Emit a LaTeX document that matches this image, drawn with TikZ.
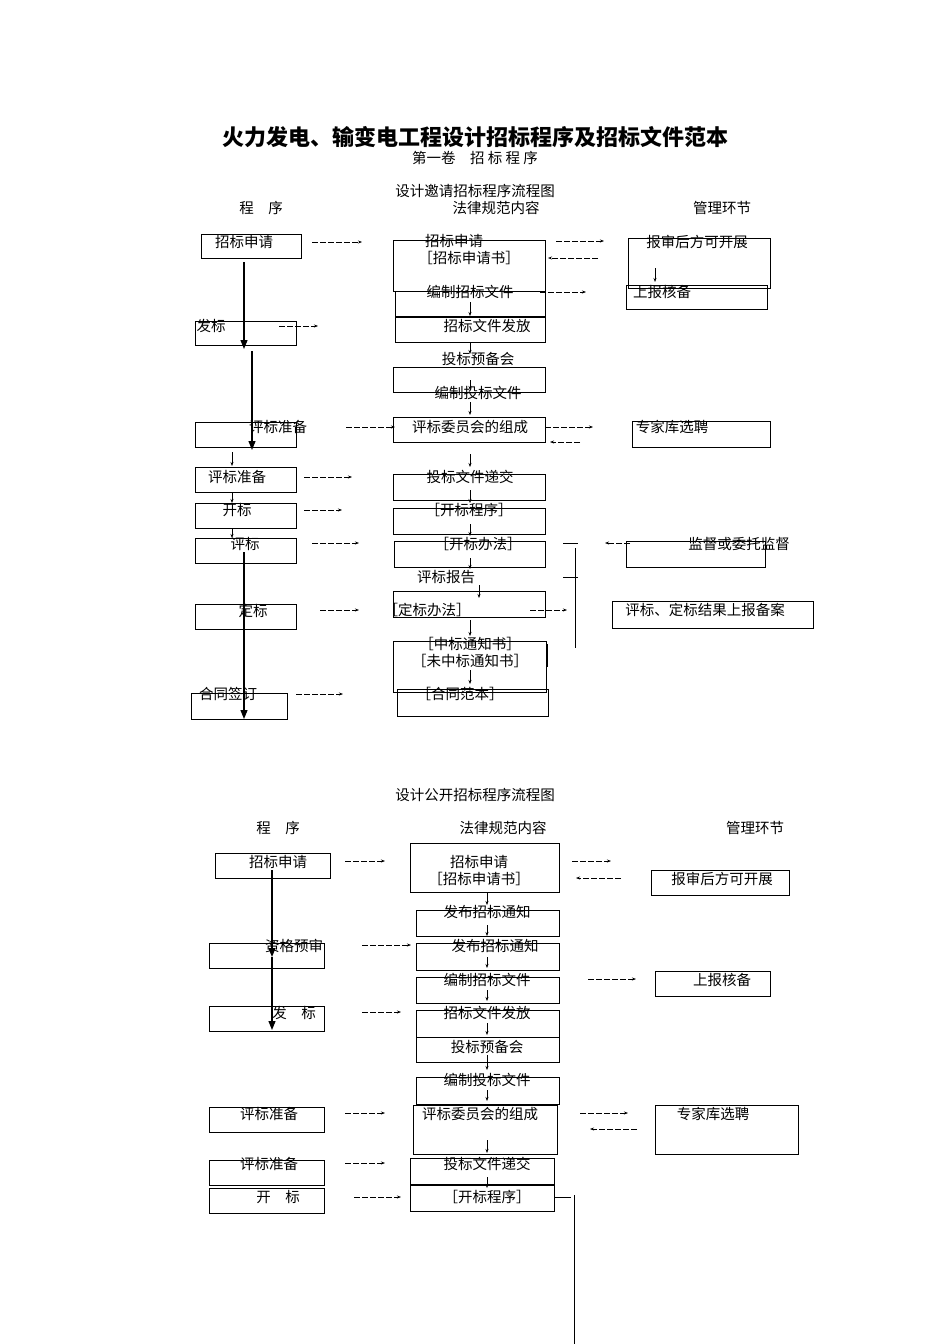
\documentclass[tikz,border=0pt]{standalone}
\usepackage{fontspec}
\setmainfont{Noto Sans CJK SC}
\usetikzlibrary{arrows.meta}
\newcommand\bx[4]{\draw[boxl] (#1,#2) rectangle (#3,#4);}
\newcommand\tx[3]{\node[txt] at (#1,#2) {#3};}
\newcommand\da[4]{\draw[darr] (#1,#2) -- (#3,#4);}
\newcommand\sa[4]{\draw[sarr] (#1,#2) -- (#3,#4);}
\newcommand\ta[4]{\draw[tarr] (#1,#2) -- (#3,#4);}
\begin{document}
\begin{tikzpicture}[x=1pt,y=-1pt,
  boxl/.style={line width=1pt},
  txt/.style={font=\fontsize{14.5}{15}\selectfont,inner sep=0pt},
  darr/.style={line width=0.6pt,dash pattern=on 6pt off 2pt,-{Stealth[length=4pt,width=3pt]}},
  sarr/.style={line width=0.6pt,-{Stealth[length=4pt,width=3pt]}},
  tarr/.style={line width=1.2pt,-{Triangle[length=9pt,width=7pt]}}]
\useasboundingbox[fill=white] (0,0) rectangle (950,1344);
% titles
\node[font=\fontsize{22}{24}\selectfont\bfseries] at (475,137) {火力发电、输变电工程设计招标程序及招标文件范本};
\tx{475}{158}{第一卷　招 标 程 序}
\tx{475}{191}{设计邀请招标程序流程图}
\tx{261}{208}{程　序}\tx{496}{208}{法律规范内容}\tx{722}{208}{管理环节}
% top left
\bx{201}{234}{301}{258}\tx{244}{242}{招标申请}
\bx{195}{321}{296}{345}\tx{211}{326}{发标}
\bx{195}{422}{296}{447}\tx{278}{427}{评标准备}
\bx{195}{467}{296}{492}\tx{237}{477}{评标准备}
\bx{195}{503}{296}{528}\tx{237}{510}{开标}
\bx{195}{538}{296}{563}\tx{245}{544}{评标}
\bx{195}{604}{296}{629}\tx{253}{611}{定标}
\bx{191}{693}{287}{719}\tx{228}{694}{合同签订}
\ta{244}{262}{244}{349}\ta{252}{351}{252}{450}
\sa{232}{452}{232}{466}\sa{232}{492}{232}{503}\sa{232}{528}{232}{538}
\ta{244}{552}{244}{719}
% top middle
\bx{393}{240}{545}{291}\tx{454}{241}{招标申请}\tx{469}{258}{［招标申请书］}
\bx{395}{291}{545}{316}\tx{470}{292}{编制招标文件}
\bx{395}{317}{545}{342}\tx{487}{326}{招标文件发放}
\tx{478}{359}{投标预备会}
\bx{393}{367}{545}{392}\tx{478}{393}{编制投标文件}
\bx{393}{417}{545}{442}\tx{470}{427}{评标委员会的组成}
\bx{393}{474}{545}{500}\tx{470}{477}{投标文件递交}
\bx{393}{508}{545}{534}\tx{469}{510}{［开标程序］}
\bx{394}{541}{545}{567}\tx{478}{544}{［开标办法］}
\tx{446}{577}{评标报告}
\bx{393}{591}{545}{617}\tx{427}{610}{［定标办法］}
\bx{393}{641}{546}{692}\draw[line width=1.5pt] (547,644)--(547,667);
\tx{470}{644}{［中标通知书］}\tx{470}{661}{［未中标通知书］}
\bx{397}{689}{548}{716}\tx{460}{694}{［合同范本］}
\sa{470}{302}{470}{316}\sa{470}{343}{470}{354}\sa{470}{380}{470}{390}
\sa{470}{402}{470}{415}\sa{470}{454}{470}{467}\sa{470}{490}{470}{503}
\sa{470}{524}{470}{536}\sa{470}{558}{470}{569}\sa{479}{585}{479}{598}
\sa{470}{620}{470}{636}\sa{470}{670}{470}{684}
% top right
\bx{628}{238}{770}{288}\tx{697}{242}{报审后方可开展}
\bx{626}{285}{767}{309}\tx{662}{292}{上报核备}
\sa{655}{268}{655}{282}
\bx{632}{421}{770}{447}\tx{672}{427}{专家库选聘}
\bx{626}{541}{765}{567}\tx{739}{544}{监督或委托监督}
\bx{612}{601}{813}{628}\tx{705}{610}{评标、定标结果上报备案}
% top horizontal arrows
\da{312}{242}{362}{242}\da{556}{241}{604}{241}\da{598}{258}{548}{258}
\da{540}{292}{586}{292}\da{279}{326}{318}{326}\da{346}{427}{395}{427}
\da{545}{427}{593}{427}\da{580}{442}{550}{442}\da{304}{477}{352}{477}
\da{304}{510}{342}{510}\da{312}{543}{359}{543}\da{630}{543}{605}{543}
\da{320}{610}{359}{610}\da{530}{610}{567}{610}\da{296}{694}{343}{694}
\draw[line width=0.6pt] (563,543)--(578,543) (563,577)--(578,577);
\draw[line width=1pt] (575,548)--(575,648);
% bottom
\tx{475}{795}{设计公开招标程序流程图}
\tx{278}{828}{程　序}\tx{503}{828}{法律规范内容}\tx{755}{828}{管理环节}
\bx{215}{853}{330}{878}\tx{278}{862}{招标申请}
\bx{209}{943}{324}{968}\tx{294}{946}{资格预审}
\bx{209}{1006}{324}{1031}\tx{294}{1013}{发　标}
\bx{209}{1107}{324}{1132}\tx{269}{1114}{评标准备}
\bx{209}{1160}{324}{1185}\tx{269}{1164}{评标准备}
\bx{209}{1188}{324}{1213}\tx{278}{1197}{开　标}
\ta{272}{870}{272}{957}\ta{272}{957}{272}{1030}
\bx{410}{843}{559}{892}\tx{479}{862}{招标申请}\tx{479}{879}{［招标申请书］}
\bx{416}{910}{559}{936}\tx{487}{912}{发布招标通知}
\bx{416}{943}{559}{970}\tx{495}{946}{发布招标通知}
\bx{416}{977}{559}{1003}\tx{487}{980}{编制招标文件}
\bx{416}{1010}{559}{1037}\tx{487}{1013}{招标文件发放}
\bx{416}{1037}{559}{1062}\tx{487}{1047}{投标预备会}
\bx{416}{1077}{559}{1104}\tx{487}{1080}{编制投标文件}
\bx{413}{1105}{557}{1154}\tx{480}{1114}{评标委员会的组成}
\bx{410}{1158}{554}{1184}\tx{487}{1164}{投标文件递交}
\bx{410}{1185}{554}{1211}\tx{487}{1197}{［开标程序］}
\sa{487}{892}{487}{905}\sa{487}{925}{487}{936}\sa{487}{957}{487}{968}
\sa{487}{990}{487}{1001}\sa{487}{1023}{487}{1035}\sa{487}{1055}{487}{1070}
\sa{487}{1090}{487}{1101}\sa{487}{1140}{487}{1153}\sa{487}{1177}{487}{1188}
\bx{651}{870}{789}{895}\tx{722}{879}{报审后方可开展}
\bx{655}{971}{770}{996}\tx{722}{980}{上报核备}
\bx{655}{1105}{798}{1154}\tx{713}{1114}{专家库选聘}
\da{345}{861}{385}{861}\da{572}{861}{611}{861}\da{621}{878}{576}{878}
\da{362}{945}{411}{945}\da{588}{979}{636}{979}\da{362}{1012}{401}{1012}
\da{345}{1113}{385}{1113}\da{580}{1113}{628}{1113}\da{637}{1129}{590}{1129}
\da{345}{1163}{385}{1163}\da{354}{1197}{401}{1197}
\draw[line width=0.6pt] (554,1197)--(571,1197);
\draw[line width=1pt] (574,1195)--(574,1344);
\end{tikzpicture}
\end{document}
